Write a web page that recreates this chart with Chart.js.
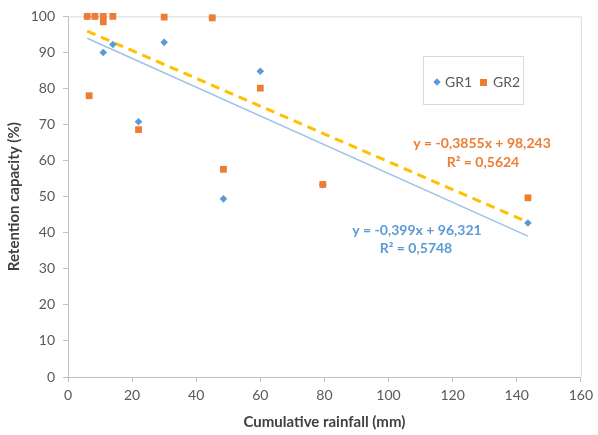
<!DOCTYPE html>
<html>
<head>
<meta charset="utf-8">
<script src="https://cdn.jsdelivr.net/npm/chart.js@4/dist/chart.umd.min.js"></script>
<style>
  html, body { margin: 0; padding: 0; background: #fff; }
  #wrap { width: 598px; height: 435px; }
</style>
</head>
<body>
<div id="wrap"><canvas id="c" width="598" height="435"></canvas></div>
<script>
// ---- data ----
const gr1X = [6, 8.4, 11, 14, 22, 30, 45, 48.5, 60, 79.5, 143.5];
const gr1Y = [100, 100, 90, 92.2, 70.8, 92.8, 99.6, 49.4, 84.8, 53.3, 42.7];
const gr2X = [6, 6.6, 8.4, 11, 11, 14, 22, 30, 45, 48.5, 60, 79.5, 143.5];
const gr2Y = [100, 78, 100, 100, 98.5, 100, 68.6, 99.8, 99.6, 57.6, 80.1, 53.4, 49.7];
const seriesNames = ['GR1', 'GR2'];
// trendline equations y = a*x + b (as printed on the chart)
const gr1Trend = { slope: -0.399, intercept: 96.321, r2: 0.5748 };
const gr2Trend = { slope: -0.3855, intercept: 98.243, r2: 0.5624 };
const trendRange = [6, 143.5];
const xTicks = [0, 20, 40, 60, 80, 100, 120, 140, 160];
const yTicks = [0, 10, 20, 30, 40, 50, 60, 70, 80, 90, 100];
const xTitle = 'Cumulative rainfall (mm)';
const yTitle = 'Retention capacity (%)';

const BLUE = '#5B9BD5', ORANGE = '#ED7D31', GOLD = '#FFC000', LIGHTBLUE = '#9DC3E6';
const TXT = '#595959', FONT = 'Lato, "Open Sans", sans-serif';

const pts = (xs, ys) => xs.map((x, i) => ({ x, y: ys[i] }));
const trendPts = t => trendRange.map(x => ({ x, y: t.slope * x + t.intercept }));
const fmt = (v, d) => v.toFixed(d).replace('.', ',');

const frame = {
  id: 'frame',
  beforeDatasetsDraw(chart) {
    const { ctx, chartArea: a } = chart;
    ctx.save();
    ctx.strokeStyle = '#D9D9D9';
    ctx.lineWidth = 1;
    ctx.beginPath();
    ctx.moveTo(a.left, a.top + 0.5);
    ctx.lineTo(a.right + 0.5, a.top + 0.5);
    ctx.lineTo(a.right + 0.5, a.bottom);
    ctx.stroke();
    ctx.restore();
  }
};

const annot = {
  id: 'annot',
  afterDraw(chart) {
    const { ctx } = chart;
    ctx.save();
    // equations
    ctx.font = 'bold 14px ' + FONT;
    ctx.textAlign = 'center';
    ctx.textBaseline = 'middle';
    ctx.fillStyle = ORANGE;
    ctx.fillText('y = ' + fmt(gr2Trend.slope, 4) + 'x + ' + fmt(gr2Trend.intercept, 3), 482, 143);
    ctx.fillText('R² = ' + fmt(gr2Trend.r2, 4), 483, 162);
    ctx.fillStyle = BLUE;
    ctx.fillText('y = ' + fmt(gr1Trend.slope, 3) + 'x + ' + fmt(gr1Trend.intercept, 3), 417, 230);
    ctx.fillText('R² = ' + fmt(gr1Trend.r2, 4), 416, 248);
    // legend
    ctx.fillStyle = '#fff';
    ctx.fillRect(423, 56, 100, 48);
    ctx.strokeStyle = '#D9D9D9';
    ctx.lineWidth = 1;
    ctx.strokeRect(423.5, 56.5, 100, 48);
    ctx.font = '14px ' + FONT;
    ctx.textAlign = 'left';
    ctx.fillStyle = BLUE;
    ctx.beginPath();
    Chart.helpers.drawPoint(ctx, { pointStyle: 'rectRot', radius: 3.5, borderWidth: 0 }, 437, 82);
    ctx.fillStyle = BLUE; ctx.fill();
    ctx.fillStyle = TXT;
    ctx.fillText(seriesNames[0], 445, 82);
    ctx.fillStyle = ORANGE;
    ctx.fillRect(480, 79, 7, 7);
    ctx.fillStyle = TXT;
    ctx.fillText(seriesNames[1], 493, 82);
    ctx.restore();
  }
};

new Chart(document.getElementById('c'), {
  type: 'scatter',
  data: {
    datasets: [
      { label: 'GR1 trend', type: 'line', data: trendPts(gr1Trend), borderColor: LIGHTBLUE, borderWidth: 1.5,
        pointRadius: 0, fill: false, order: 3 },
      { label: 'GR2 trend', type: 'line', data: trendPts(gr2Trend), borderColor: GOLD, borderWidth: 3,
        borderDash: [9, 6], pointRadius: 0, fill: false, order: 2 },
      { label: seriesNames[0], data: pts(gr1X, gr1Y), pointStyle: 'rectRot', pointRadius: 3.8,
        backgroundColor: BLUE, borderColor: BLUE, borderWidth: 0, order: 1 },
      { label: seriesNames[1], data: pts(gr2X, gr2Y), pointStyle: 'rect', pointRadius: 4.8,
        backgroundColor: ORANGE, borderColor: ORANGE, borderWidth: 0, order: 0 }
    ]
  },
  options: {
    responsive: false,
    animation: false,
    clip: false,
    layout: { padding: { top: 12, right: 15, left: 0, bottom: 0 } },
    plugins: { legend: { display: false }, tooltip: { enabled: false } },
    scales: {
      x: {
        type: 'linear', min: 0, max: 160,
        afterBuildTicks: s => { s.ticks = xTicks.map(v => ({ value: v })); },
        afterFit: s => { s.height = 58; },
        grid: { drawOnChartArea: false, tickLength: 5, color: '#BFBFBF' },
        border: { color: '#BFBFBF', width: 1 },
        ticks: { color: TXT, font: { family: FONT, size: 14 }, padding: 5, maxRotation: 0 },
        title: { display: true, text: xTitle, color: '#404040', font: { family: FONT, size: 15, weight: 'bold' },
                 padding: { top: 0, bottom: 4 } }
      },
      y: {
        type: 'linear', min: 0, max: 100,
        afterBuildTicks: s => { s.ticks = yTicks.map(v => ({ value: v })); },
        afterFit: s => { s.width = 68; },
        grid: { drawOnChartArea: false, tickLength: 5, color: '#BFBFBF' },
        border: { color: '#BFBFBF', width: 1 },
        ticks: { color: TXT, font: { family: FONT, size: 14 }, padding: 8 },
        title: { display: true, text: yTitle, color: '#404040', font: { family: FONT, size: 15, weight: 'bold' },
                 padding: { top: 5, bottom: 0 } }
      }
    }
  },
  plugins: [frame, annot]
});
</script>
</body>
</html>
